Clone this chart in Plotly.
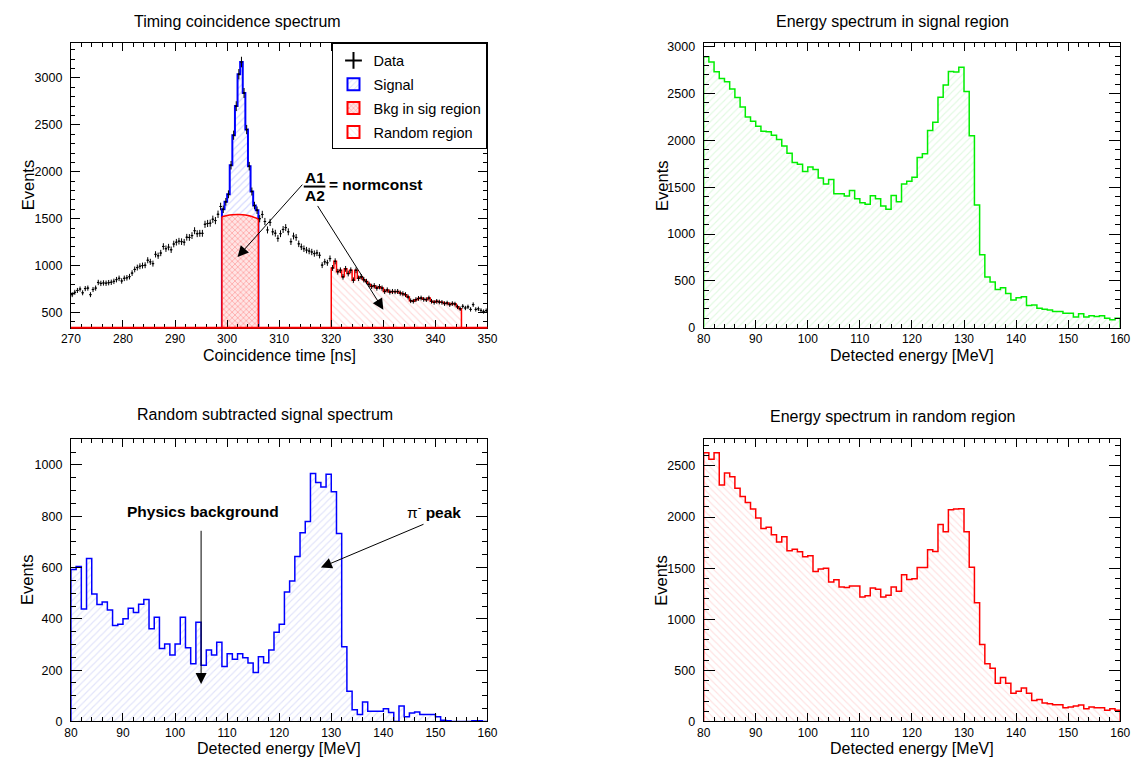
import numpy as np
import plotly.graph_objects as go

# ---------------- Timing coincidence spectrum (0.5 ns bins, 270-350 ns) ----------------
TIME_LO, TIME_HI, TIME_BIN = 270.0, 350.0, 0.5
timing_counts = [
    # 270 - 299 ns
    690, 715, 735, 750, 710, 755, 760, 690, 745, 760,
    820, 810, 815, 812, 818, 822, 832, 850, 864, 836,
    864, 870, 882, 920, 959, 979, 993, 1000, 1004, 1057,
    1040, 1021, 1120, 1105, 1134, 1204, 1180, 1197, 1169, 1230,
    1249, 1260, 1255, 1249, 1302, 1300, 1320, 1372, 1340, 1344,
    1344, 1440, 1449, 1452, 1494, 1480, 1547, 1630,
    # 299 - 306 ns (coincidence peak)
    1600, 1680, 1760, 2070, 2390, 2700, 3040, 3170, 2840, 2450,
    2060, 1790, 1640, 1590,
    # 306 - 320 ns
    1500, 1545, 1470, 1380, 1460, 1360, 1345, 1290, 1340, 1385,
    1405, 1360, 1255, 1315, 1300, 1232, 1200, 1180, 1165, 1155,
    1145, 1128, 1135, 1110, 1005, 1040, 1030, 1075,
    # 320 - 345 ns
    975, 1045, 935, 950, 880, 965, 915, 950, 845, 950,
    865, 880, 850, 830, 800, 778, 785, 760, 775, 760,
    725, 740, 718, 724, 722, 724, 707, 700, 690, 665,
    625, 620, 637, 650, 654, 640, 637, 654, 620, 608,
    619, 612, 608, 595, 601, 584, 595, 590, 560, 540,
    # 345 - 350 ns
    566, 548, 560, 533, 584, 533, 539, 522, 510, 520,
]
signal_window = (299.0, 306.0)
random_window = (320.0, 345.0)

# background estimate under the peak (fitted curve, sampled every 1 ns)
bkg_curve_t = [299, 300, 301, 302, 303, 304, 305, 306]
bkg_curve_y = [1520, 1533, 1541, 1545, 1543, 1534, 1518, 1497]

# ---------------- Energy spectra (1 MeV bins, 80-160 MeV) ----------------
E_LO, E_HI, E_BIN = 80.0, 160.0, 1.0
signal_energy = [
    2894, 2838, 2732, 2662, 2627, 2549, 2458, 2356, 2250, 2204,
    2151, 2098, 2091, 2056, 2010, 1941, 1863, 1764, 1746, 1669,
    1716, 1688, 1599, 1535, 1582, 1430, 1430, 1405, 1465, 1377,
    1334, 1317, 1408, 1377, 1299, 1264, 1412, 1345, 1535, 1563,
    1606, 1817, 1856, 2106, 2194, 2461, 2591, 2736, 2729, 2781,
    2521, 2049, 1310, 778, 542, 489, 408, 426, 366, 296,
    320, 331, 236, 243, 208, 197, 190, 172, 172, 155,
    155, 113, 148, 113, 127, 120, 127, 102, 85, 102,
]
random_energy = [
    2629, 2565, 2629, 2314, 2432, 2394, 2281, 2201, 2143, 2078,
    1991, 1889, 1901, 1827, 1757, 1808, 1670, 1686, 1660, 1612,
    1622, 1467, 1493, 1500, 1364, 1387, 1316, 1310, 1326, 1326,
    1219, 1229, 1306, 1293, 1219, 1236, 1316, 1274, 1435, 1390,
    1396, 1506, 1506, 1680, 1663, 1927, 1856, 2072, 2078, 2081,
    1856, 1509, 1161, 753, 566, 521, 373, 431, 373, 277,
    296, 328, 277, 206, 216, 180, 174, 164, 164, 135,
    141, 151, 161, 125, 141, 135, 135, 109, 125, 109,
]
subtracted_energy = [
    592, 604, 438, 635, 497, 456, 466, 434, 374, 379,
    400, 441, 425, 457, 475, 361, 406, 284, 302, 259,
    302, 406, 287, 225, 387, 219, 279, 259, 309, 214,
    264, 242, 264, 248, 228, 191, 252, 229, 279, 348,
    379, 505, 547, 643, 735, 779, 966, 931, 914, 963,
    895, 733, 291, 118, 46, 27, 76, 40, 40, 40,
    50, 35, 0, 60, 18, 33, 37, 27, 27, 27,
    18, 5, 3, 0, 0, 0, 0, 3, 3, 0,
]

# ---------------- helpers ----------------
W, H = 1143, 764
FONT = "Liberation Sans, Arial, Helvetica, sans-serif"


def px(x):
    return x / W


def py(y):
    return 1 - y / H


def step_xy(edges, vals):
    """Outline of a filled histogram (vertical edges down to zero at both ends)."""
    vals = list(vals)
    xs = [edges[0]] + list(edges[:-1]) + [edges[-1], edges[-1]]
    ys = [0] + vals + [vals[-1], 0]
    return xs, ys


def hatch(shape, fg, bg="rgba(255,255,255,0)", size=5, solidity=0.22):
    return dict(shape=shape, fgcolor=fg, bgcolor=bg, size=size, solidity=solidity)


t_edges = np.arange(TIME_LO, TIME_HI + TIME_BIN / 2, TIME_BIN)
t_centers = 0.5 * (t_edges[:-1] + t_edges[1:])
counts = np.array(timing_counts, dtype=float)

i_sig0 = int(round((signal_window[0] - TIME_LO) / TIME_BIN))
i_sig1 = int(round((signal_window[1] - TIME_LO) / TIME_BIN))
i_rnd0 = int(round((random_window[0] - TIME_LO) / TIME_BIN))
i_rnd1 = int(round((random_window[1] - TIME_LO) / TIME_BIN))

e_edges = np.arange(E_LO, E_HI + E_BIN / 2, E_BIN)

SIG_HATCH = hatch("/", "#a8b0ff")
BKG_HATCH = hatch("x", "#ff4848", "#ffe4e4", size=4, solidity=0.3)
RND_HATCH = hatch("\\", "#ffb8b8")

fig = go.Figure()


def filled_step(xs, ys, color, width, pattern, xa, ya):
    fig.add_trace(go.Scatter(
        x=xs, y=ys, mode="lines", line=dict(color=color, width=width, shape="hv"),
        fill="tozeroy", fillcolor="rgba(0,0,0,0)", fillpattern=pattern,
        showlegend=False, hoverinfo="skip", xaxis=xa, yaxis=ya))


# ---- top-left: timing spectrum ----
rx, ry = step_xy(t_edges[i_rnd0:i_rnd1 + 1], counts[i_rnd0:i_rnd1])
filled_step(rx, ry, "#ff0000", 1.5, RND_HATCH, "x", "y")

sx, sy = step_xy(t_edges[i_sig0:i_sig1 + 1], counts[i_sig0:i_sig1])
filled_step(sx, sy, "#0000ff", 2, SIG_HATCH, "x", "y")

fig.add_trace(go.Scatter(
    x=bkg_curve_t, y=bkg_curve_y, mode="lines", line=dict(color="#ff0000", width=1.5, shape="spline"),
    fill="tozeroy", fillcolor="rgba(0,0,0,0)", fillpattern=BKG_HATCH,
    showlegend=False, hoverinfo="skip", xaxis="x", yaxis="y"))
fig.add_trace(go.Scatter(
    x=[bkg_curve_t[0], bkg_curve_t[0], None, bkg_curve_t[-1], bkg_curve_t[-1]],
    y=[0, bkg_curve_y[0], None, 0, bkg_curve_y[-1]],
    mode="lines", line=dict(color="#ff0000", width=1.5), showlegend=False,
    hoverinfo="skip", xaxis="x", yaxis="y"))

fig.add_trace(go.Scatter(
    x=t_centers, y=counts, mode="markers",
    marker=dict(symbol="cross-thin", size=1, color="black", line=dict(width=1, color="black")),
    error_y=dict(type="data", array=np.sqrt(counts), color="black", thickness=1, width=0),
    error_x=dict(type="constant", value=TIME_BIN / 2, color="black", thickness=1, width=0),
    name="Data", legendrank=1, legendgroup="data", xaxis="x", yaxis="y"))

# legend entries for the filled regions (boxes with the same hatching)
for name, rank, fillc, pat, edge in [
    ("Signal", 2, "white", SIG_HATCH, "#0000ff"),
    ("Bkg in sig region", 3, "#ffe4e4", BKG_HATCH, "#ff0000"),
    ("Random region", 4, "white", RND_HATCH, "#ff0000"),
]:
    fig.add_trace(go.Bar(
        x=[None], y=[None], name=name, legendrank=rank, legendgroup=name,
        marker=dict(color=fillc, pattern=pat, line=dict(color=edge, width=1.5)),
        xaxis="x", yaxis="y"))

# ---- top-right: energy in signal region ----
gx, gy = step_xy(e_edges, signal_energy)
filled_step(gx, gy, "#00ee00", 1.5, hatch("/", "#c4f4c4"), "x2", "y2")

# ---- bottom-left: random subtracted ----
bx, by = step_xy(e_edges, subtracted_energy)
filled_step(bx, by, "#0000ff", 1.5, hatch("/", "#c4c8f6"), "x3", "y3")

# ---- bottom-right: energy in random region ----
qx, qy = step_xy(e_edges, random_energy)
filled_step(qx, qy, "#ff0000", 1.5, hatch("\\", "#ffc4c4"), "x4", "y4")


# ---------------- axes ----------------
def xaxis(domain, rng, anchor, dtick, minor):
    return dict(domain=domain, range=rng, anchor=anchor, dtick=dtick, tick0=0,
                showgrid=False, zeroline=False, showline=True, linecolor="black", linewidth=1,
                mirror="allticks", ticks="inside", ticklen=8, tickcolor="black", tickwidth=1,
                minor=dict(ticks="inside", ticklen=4, dtick=minor, tickcolor="black", showgrid=False),
                tickfont=dict(family=FONT, size=12, color="black"), ticklabelstandoff=0)


def yaxis(domain, rng, anchor, dtick, minor, ticklen=11):
    return dict(domain=domain, range=rng, anchor=anchor, dtick=dtick, tick0=0,
                showgrid=False, zeroline=False, showline=True, linecolor="black", linewidth=1,
                mirror="allticks", ticks="inside", ticklen=ticklen, tickcolor="black", tickwidth=1,
                minor=dict(ticks="inside", ticklen=ticklen // 2, dtick=minor, tickcolor="black", showgrid=False),
                tickfont=dict(family=FONT, size=12.5, color="black"), ticklabelstandoff=5)


XL = [px(62), px(486)]
XR = [px(706), px(1130)]
YT = [py(329), py(41)]
YB = [py(728), py(442)]

fig.update_layout(
    xaxis=xaxis(XL, [270, 350], "y", 10, 2),
    yaxis=yaxis(YT, [338, 3368], "x", 500, 100, ticklen=9),
    xaxis2=xaxis(XR, [80, 160], "y2", 10, 2),
    yaxis2=yaxis(YT, [0, 3035], "x2", 500, 100),
    xaxis3=xaxis(XL, [80, 160], "y3", 10, 2),
    yaxis3=yaxis(YB, [0, 1100], "x3", 200, 50),
    xaxis4=xaxis(XR, [80, 160], "y4", 10, 2),
    yaxis4=yaxis(YB, [0, 2762], "x4", 500, 100),
)

# ---------------- text ----------------
ann = []


def text(x, y, s, size, **kw):
    d = dict(x=px(x), y=py(y), xref="paper", yref="paper", text=s, showarrow=False,
             xanchor="center", yanchor="middle",
             font=dict(family=FONT, size=size, color="black"))
    d.update(kw)
    ann.append(d)


# panel titles
text(232, 19, "Timing coincidence spectrum", 16)
text(898, 19, "Energy spectrum in signal region", 16)
text(260, 417, "Random subtracted signal spectrum", 16)
text(898, 419, "Energy spectrum in random region", 16)

# axis titles
text(274, 357, "Coincidence time [ns]", 16)
for cx, cy in [(918, 357), (274, 755), (918, 755)]:
    text(cx, cy, "Detected energy [MeV]", 16)
for cx, cy in [(18, 185), (663, 185), (18, 585), (663, 585)]:
    text(cx, cy, "Events", 16.5, textangle=-90)

# normalisation note
text(310, 177, "<b>A1</b>", 15.5)
text(310, 195, "<b>A2</b>", 15.5)
text(323, 184, "<b>= normconst</b>", 15.5, xanchor="left")

# BL labels
text(196, 515, "<b>Physics background</b>", 15.5)
text(432, 515, "π<sup>-</sup> <b>peak</b>", 15.5)


def arrow(x, y, ax, ay, xr, yr):
    ann.append(dict(x=x, y=y, ax=ax, ay=ay, xref=xr, yref=yr, axref=xr, ayref=yr,
                    text="", showarrow=True, arrowhead=2, arrowsize=2.2, arrowwidth=1,
                    arrowcolor="black", standoff=0, startstandoff=0))


arrow(302, 1091, 314.7, 1879, "x", "y")
arrow(330, 530, 317.2, 1652, "x", "y")
arrow(105, 146, 105, 749, "x3", "y3")
arrow(128, 600, 148, 771, "x3", "y3")

shapes = [
    # fraction bar
    dict(type="line", xref="paper", yref="paper", x0=px(299), x1=px(321), y0=py(186), y1=py(186),
         line=dict(color="black", width=2)),
    # empty bins of the red histograms sit on the lower frame edge
    dict(type="line", xref="x domain", yref="y domain", x0=0, x1=1, y0=0, y1=0,
         line=dict(color="#ff0000", width=2), layer="above"),
]

fig.update_layout(
    width=W, height=H, margin=dict(l=0, r=0, t=0, b=0),
    paper_bgcolor="white", plot_bgcolor="white",
    font=dict(family=FONT, color="black"),
    annotations=ann, shapes=shapes,
    showlegend=True, barmode="overlay",
    legend=dict(x=px(486), xanchor="right", y=py(41), yanchor="top",
                bgcolor="white", bordercolor="black", borderwidth=1,
                font=dict(family=FONT, size=14.5, color="black"),
                itemsizing="constant", tracegroupgap=2, traceorder="grouped",
                itemwidth=30),
)

fig.write_html("out.html")
